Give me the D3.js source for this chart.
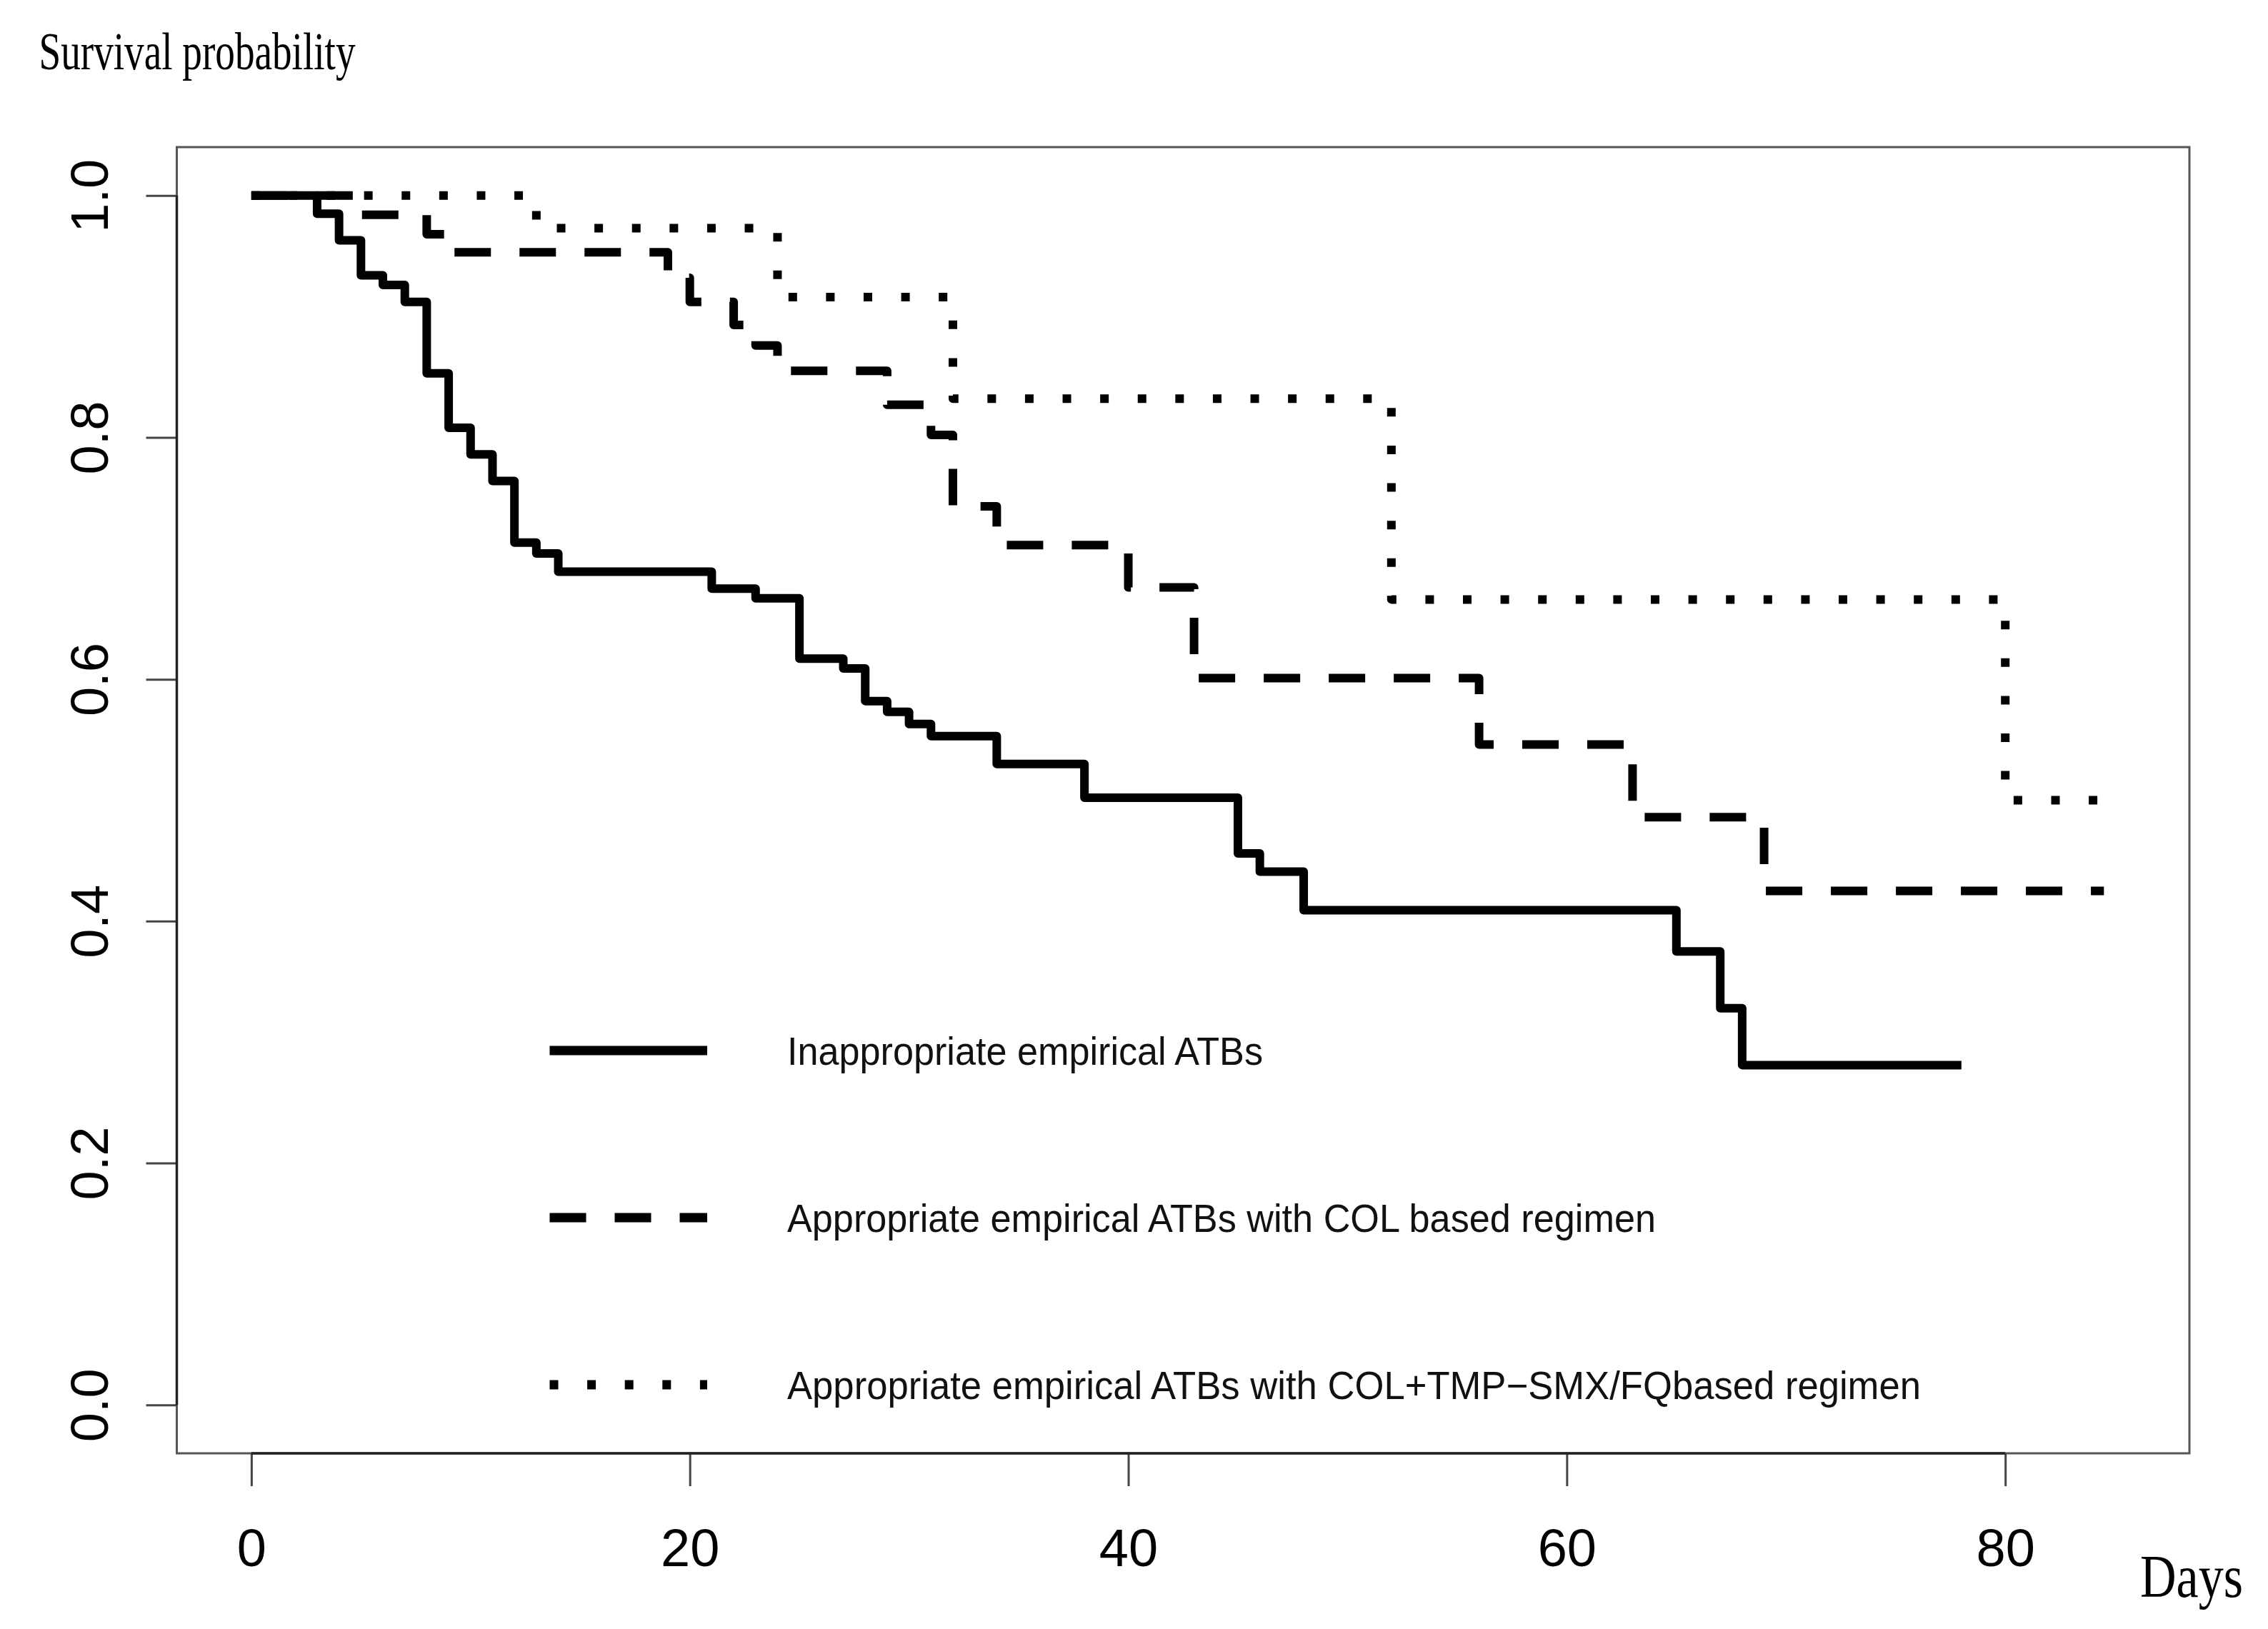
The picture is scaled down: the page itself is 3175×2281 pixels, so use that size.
<!DOCTYPE html>
<html>
<head>
<meta charset="utf-8">
<script src="https://cdn.jsdelivr.net/npm/d3@7"></script>
<style>
  body { margin: 0; background: #fff; }
</style>
</head>
<body>
<div id="graph"></div>
<script>
// Kaplan-Meier steps (days, survival)
var inappTimes = [0, 3, 4, 5, 6, 7, 8, 9, 10, 11, 12, 13, 14, 21, 23, 25, 27, 28, 29, 30, 31, 34, 38, 45, 46, 48, 65, 67, 68, 78];
var inappSurv  = [1, .985, .963, .934, .926, .912, .853, .808, .786, .764, .713, .704, .689, .675, .667, .617, .609, .582, .573, .563, .553, .530, .502, .456, .441, .409, .375, .328, .281, .281];

var colTimes = [0, 5, 8, 9, 19, 20, 22, 23, 24, 29, 31, 32, 34, 40, 43, 56, 63, 69, 84.5];
var colSurv  = [1, .984, .968, .953, .932, .912, .893, .876, .855, .827, .802, .743, .711, .676, .601, .546, .486, .425, .425];

var comboTimes = [0, 13, 24, 32, 52, 80, 84.5];
var comboSurv  = [1, .973, .916, .832, .666, .5, .5];

var legendLabels = [
  "Inappropriate empirical ATBs",
  "Appropriate empirical ATBs with COL based regimen",
  "Appropriate empirical ATBs with COL+TMP\u2212SMX/FQbased regimen"
];

var xTicks = [0, 20, 40, 60, 80];
var yTicks = [0, 0.2, 0.4, 0.6, 0.8, 1.0];

var W = 3175, H = 2281;
var box = { left: 247.5, right: 3065, top: 206, bottom: 2035 };
var dashes = [null, "51,40", "12,40.6"];
var legendWidths = [666, 1216, 1587];

var svg = d3.select("#graph").append("svg")
    .attr("width", W)
    .attr("height", H)
    .style("display", "block");

var x = d3.scaleLinear().domain([-3.4, 88.4]).range([box.left, box.right]);
var y = d3.scaleLinear().domain([-0.04, 1.04]).range([box.bottom, box.top]);

// frame
svg.append("rect")
    .attr("x", box.left).attr("y", box.top)
    .attr("width", box.right - box.left).attr("height", box.bottom - box.top)
    .attr("fill", "none").attr("stroke", "#555").attr("stroke-width", 3);

// x axis
var gx = svg.append("g")
    .attr("transform", "translate(0," + box.bottom + ")")
    .call(d3.axisBottom(x).tickValues(xTicks).tickSize(46).tickSizeOuter(0).tickFormat(d3.format("d")));
gx.select(".domain").remove();
gx.append("line")
    .attr("x1", x(xTicks[0])).attr("x2", x(xTicks[xTicks.length - 1]))
    .attr("stroke", "#222").attr("stroke-width", 3.5);
gx.selectAll(".tick line").attr("stroke", "#444").attr("stroke-width", 3);
gx.selectAll(".tick text")
    .attr("y", 158).attr("dy", null)
    .attr("fill", "#000")
    .style("font-family", "'Liberation Sans', Arial, sans-serif")
    .style("font-size", "74px");

// y axis
var gy = svg.append("g")
    .attr("transform", "translate(" + box.left + ",0)")
    .call(d3.axisLeft(y).tickValues(yTicks).tickSize(43).tickSizeOuter(0).tickFormat(d3.format(".1f")));
gy.select(".domain").remove();
gy.append("line")
    .attr("y1", y(yTicks[0])).attr("y2", y(yTicks[yTicks.length - 1]))
    .attr("stroke", "#222").attr("stroke-width", 3.5);
gy.selectAll(".tick line").attr("stroke", "#444").attr("stroke-width", 3);
gy.selectAll(".tick text")
    .attr("x", null).attr("dy", null).attr("y", null)
    .attr("text-anchor", "middle")
    .attr("transform", "translate(-96.5,0) rotate(-90)")
    .attr("fill", "#000")
    .style("font-family", "'Liberation Sans', Arial, sans-serif")
    .style("font-size", "74px");

// titles
svg.append("text")
    .attr("x", 54.5).attr("y", 97)
    .attr("textLength", 443).attr("lengthAdjust", "spacingAndGlyphs")
    .style("font-family", "'Liberation Serif', 'DejaVu Serif', serif")
    .style("font-size", "75px")
    .text("Survival probability");

svg.append("text")
    .attr("x", 2996).attr("y", 2236)
    .attr("textLength", 144).attr("lengthAdjust", "spacingAndGlyphs")
    .style("font-family", "'Liberation Serif', 'DejaVu Serif', serif")
    .style("font-size", "84px")
    .text("Days");

// curves
function toPoints(times, surv) {
  return times.map(function(t, i) { return { t: t, s: surv[i] }; });
}
var curves = [toPoints(inappTimes, inappSurv), toPoints(colTimes, colSurv), toPoints(comboTimes, comboSurv)];

var line = d3.line()
    .x(function(d) { return x(d.t); })
    .y(function(d) { return y(d.s); })
    .curve(d3.curveStepAfter);

// draw dotted first so solid sits on top at the shared start
[2, 1, 0].forEach(function(i) {
  svg.append("path")
      .datum(curves[i])
      .attr("fill", "none")
      .attr("stroke", "#000")
      .attr("stroke-width", 12)
      .attr("stroke-linejoin", "round")
      .attr("stroke-linecap", "butt")
      .attr("stroke-dasharray", dashes[i])
      .attr("d", line);
});

// legend
var legendY = [1471, 1705, 1939];
var legend = svg.append("g");
legendLabels.forEach(function(label, i) {
  legend.append("line")
      .attr("x1", 769.5).attr("x2", 990)
      .attr("y1", legendY[i]).attr("y2", legendY[i])
      .attr("stroke", "#000")
      .attr("stroke-width", 13)
      .attr("stroke-dasharray", dashes[i]);
  legend.append("text")
      .attr("x", 1102).attr("y", legendY[i] + 20)
      .attr("textLength", legendWidths[i]).attr("lengthAdjust", "spacingAndGlyphs")
      .style("font-family", "'Liberation Sans', Arial, sans-serif")
      .style("font-size", "55px")
      .attr("fill", "#111")
      .text(label);
});
</script>
</body>
</html>
